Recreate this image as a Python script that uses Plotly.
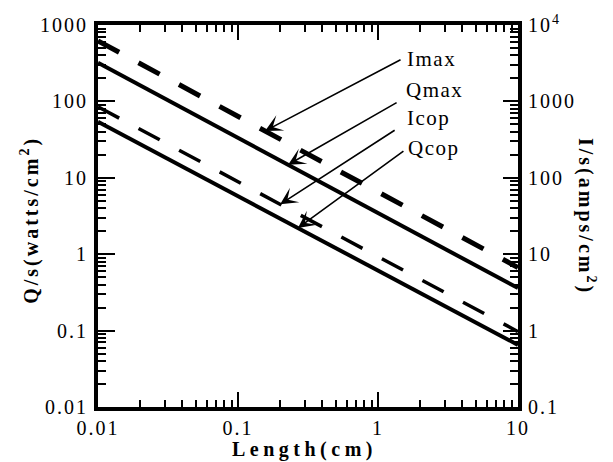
import numpy as np
import plotly.graph_objects as go

# ---- data ----
length_cm = [0.01, 10]
q_max = [320, 0.36]      # watts/cm^2 (left axis)
q_cop = [54, 0.065]      # watts/cm^2 (left axis)
i_max = [6200, 6.7]      # amps/cm^2 (right axis)
i_cop = [850, 0.97]      # amps/cm^2 (right axis)

left_ticks = [0.01, 0.1, 1, 10, 100, 1000]
left_ticktext = ["0.01", "0.1", "1", "10", "100", "1000"]
right_ticks = [0.1, 1, 10, 100, 1000, 10000]
right_ticktext = ["0.1", "1", "10", "100", "1000", "10<sup>4</sup>"]
x_ticks = [0.01, 0.1, 1, 10]
x_ticktext = ["0.01", "0.1", "1", "10"]

labels = ["Imax", "Qmax", "Icop", "Qcop"]
arrow_L = [0.156, 0.228, 0.2, 0.268]

FONT = "Liberation Serif"


def spaced(s, px):
    return '<span style="letter-spacing:%spx">%s</span>' % (px, s)


def minor_vals(lo_exp, hi_exp):
    out = []
    for e in range(lo_exp, hi_exp):
        for m in range(2, 10):
            out.append(m * 10.0 ** e)
    return out


def interp_log(xq, xs, ys):
    return 10 ** np.interp(np.log10(xq), np.log10(xs), np.log10(ys))


fig = go.Figure()
fig.add_trace(go.Scatter(x=length_cm, y=q_max, mode="lines",
                         line=dict(color="black", width=4), yaxis="y"))
fig.add_trace(go.Scatter(x=length_cm, y=q_cop, mode="lines",
                         line=dict(color="black", width=4), yaxis="y"))
fig.add_trace(go.Scatter(x=length_cm, y=i_max, mode="lines",
                         line=dict(color="black", width=5, dash="24px,22px"), yaxis="y2"))
fig.add_trace(go.Scatter(x=length_cm, y=i_cop, mode="lines",
                         line=dict(color="black", width=3.5, dash="24px,22px"), yaxis="y2"))

series = {"Imax": (i_max, "y2"), "Qmax": (q_max, "y"),
          "Icop": (i_cop, "y2"), "Qcop": (q_cop, "y")}
tails = {"Imax": (137, -72), "Qmax": (110, -63), "Icop": (116, -75), "Qcop": (107, -78)}
text_pos = {"Imax": (0.731, 0.911), "Qmax": (0.729, 0.830),
            "Icop": (0.731, 0.757), "Qcop": (0.733, 0.678)}

annotations = []
for lab, xl in zip(labels, arrow_L):
    ys, yr = series[lab]
    yv = interp_log(xl, length_cm, ys)
    ax, ay = tails[lab]
    annotations.append(dict(x=np.log10(xl), y=np.log10(yv), xref="x", yref=yr,
                            text="", showarrow=True, ax=ax, ay=ay,
                            arrowhead=3, arrowsize=1.8, arrowwidth=1.6,
                            arrowcolor="black"))
    tx, ty = text_pos[lab]
    annotations.append(dict(x=tx, y=ty, xref="paper", yref="paper", text=spaced(lab, 1.5),
                            showarrow=False, xanchor="left", yanchor="middle",
                            font=dict(family=FONT, size=21, color="black")))

annotations.append(dict(x=(30 - 98) / 420, y=0.49, xref="paper", yref="paper",
                        xanchor="center", yanchor="middle",
                        text="<b>" + spaced("Q/s(watts/cm<sup>2</sup>)", 3) + "</b>",
                        textangle=-90, showarrow=False,
                        font=dict(family=FONT, size=20, color="black")))
annotations.append(dict(x=(587 - 98) / 420, y=0.50, xref="paper", yref="paper",
                        xanchor="center", yanchor="middle",
                        text="<b>" + spaced("I/s(amps/cm<sup>2</sup>)", 3) + "</b>",
                        textangle=90, showarrow=False,
                        font=dict(family=FONT, size=20, color="black")))
annotations.append(dict(x=(304 - 98) / 420, y=(407 - 450) / 382, xref="paper", yref="paper",
                        xanchor="center", yanchor="middle",
                        text="<b>" + spaced("Length(cm)", 4.5) + "</b>", showarrow=False,
                        font=dict(family=FONT, size=20, color="black")))

tickfont = dict(family=FONT, size=20, color="black")

fig.update_layout(
    width=613, height=462,
    margin=dict(l=98, r=95, t=25, b=55),
    paper_bgcolor="white", plot_bgcolor="white",
    showlegend=False,
    annotations=annotations,
    xaxis=dict(type="log", range=[-2, 1], tickvals=x_ticks,
               ticktext=[spaced(t, 2) for t in x_ticktext], ticklabelstandoff=0,
               ticks="inside", ticklen=15, tickwidth=2, tickcolor="black",
               showline=True, linewidth=4, linecolor="black", mirror="ticks",
               showgrid=False, zeroline=False, tickfont=tickfont,
               minor=dict(tickvals=minor_vals(-2, 1), ticks="inside", ticklen=7,
                          tickwidth=2, tickcolor="black", showgrid=False)),
    yaxis=dict(type="log", range=[-2, 3], tickvals=left_ticks,
               ticktext=[spaced(t, 2) for t in left_ticktext], ticklabelstandoff=2,
               ticks="inside", ticklen=17, tickwidth=2, tickcolor="black",
               showline=True, linewidth=4, linecolor="black",
               showgrid=False, zeroline=False, tickfont=tickfont,
               minor=dict(tickvals=minor_vals(-2, 3), ticks="inside", ticklen=8,
                          tickwidth=2, tickcolor="black", showgrid=False)),
    yaxis2=dict(type="log", range=[-1, 4], overlaying="y", side="right", anchor="x",
                tickvals=right_ticks, ticktext=[spaced(t, 2) for t in right_ticktext],
                ticklabelstandoff=2,
                ticks="inside", ticklen=15, tickwidth=2, tickcolor="black",
                showline=True, linewidth=4, linecolor="black",
                showgrid=False, zeroline=False, tickfont=tickfont,
                minor=dict(tickvals=minor_vals(-1, 4), ticks="inside", ticklen=8,
                           tickwidth=2, tickcolor="black", showgrid=False)),
)

fig.write_html("out.html")
